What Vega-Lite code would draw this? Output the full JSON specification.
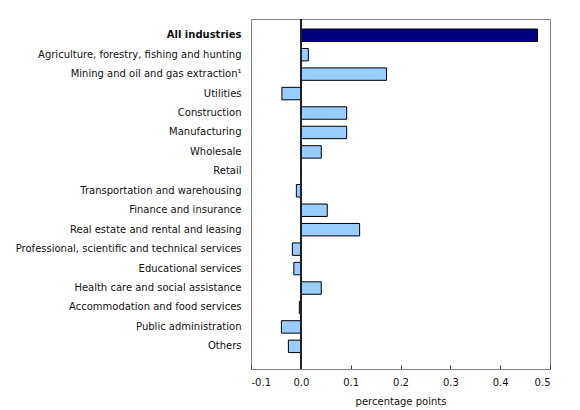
{
  "$schema": "https://vega.github.io/schema/vega-lite/v6.json",
  "width": 299,
  "height": 350,
  "autosize": {"type": "none"},
  "padding": {"left": 251, "top": 19, "right": 30, "bottom": 41},
  "background": "white",
  "config": {
    "view": {"stroke": "#808080", "strokeWidth": 1},
    "font": "DejaVu Sans"
  },
  "data": {
    "values": [
      {"industry": "All industries", "value": 0.475, "total": "yes"},
      {"industry": "Agriculture, forestry, fishing and hunting", "value": 0.015, "total": "no"},
      {"industry": "Mining and oil and gas extraction¹", "value": 0.172, "total": "no"},
      {"industry": "Utilities", "value": -0.038, "total": "no"},
      {"industry": "Construction", "value": 0.092, "total": "no"},
      {"industry": "Manufacturing", "value": 0.092, "total": "no"},
      {"industry": "Wholesale", "value": 0.041, "total": "no"},
      {"industry": "Retail", "value": 0.001, "total": "no"},
      {"industry": "Transportation and warehousing", "value": -0.009, "total": "no"},
      {"industry": "Finance and insurance", "value": 0.053, "total": "no"},
      {"industry": "Real estate and rental and leasing", "value": 0.118, "total": "no"},
      {"industry": "Professional, scientific and technical services", "value": -0.017, "total": "no"},
      {"industry": "Educational services", "value": -0.014, "total": "no"},
      {"industry": "Health care and social assistance", "value": 0.041, "total": "no"},
      {"industry": "Accommodation and food services", "value": -0.003, "total": "no"},
      {"industry": "Public administration", "value": -0.039, "total": "no"},
      {"industry": "Others", "value": -0.025, "total": "no"}
    ]
  },
  "layer": [
    {
      "mark": {"type": "bar", "stroke": "black", "strokeWidth": 1},
      "encoding": {
        "y": {
          "field": "industry",
          "type": "nominal",
          "sort": null,
          "scale": {"range": [0, 343.6], "paddingInner": 0.36, "paddingOuter": 0.515},
          "axis": {
            "title": null,
            "domain": false,
            "ticks": false,
            "labelPadding": 10,
            "labelFontSize": 10,
            "labelColor": "#111111",
            "labelLimit": 300,
            "labelFontWeight": {"condition": {"test": "datum.value == 'All industries'", "value": "bold"}, "value": "normal"}
          }
        },
        "x": {
          "field": "value",
          "type": "quantitative",
          "scale": {"domain": [-0.1, 0.5], "nice": false},
          "axis": {
            "title": "percentage points",
            "values": [-0.1, 0, 0.1, 0.2, 0.3, 0.4, 0.5],
            "labelExpr": "replace(format(datum.value, '.1f'), '\u2212', '-')",
            "grid": false,
            "domainColor": "#808080",
            "tickColor": "#404040",
            "tickSize": -4,
            "labelPadding": 12,
            "labelFontSize": 10,
            "labelColor": "#111111",
            "titleFontSize": 10,
            "titleFontWeight": "normal",
            "titleColor": "#111111",
            "titlePadding": 9
          }
        },
        "color": {
          "field": "total",
          "type": "nominal",
          "scale": {"domain": ["yes", "no"], "range": ["#000080", "#99CCFF"]},
          "legend": null
        }
      }
    },
    {
      "mark": {"type": "rule", "color": "#222222", "strokeWidth": 1},
      "encoding": {"x": {"datum": 0}}
    }
  ]
}
